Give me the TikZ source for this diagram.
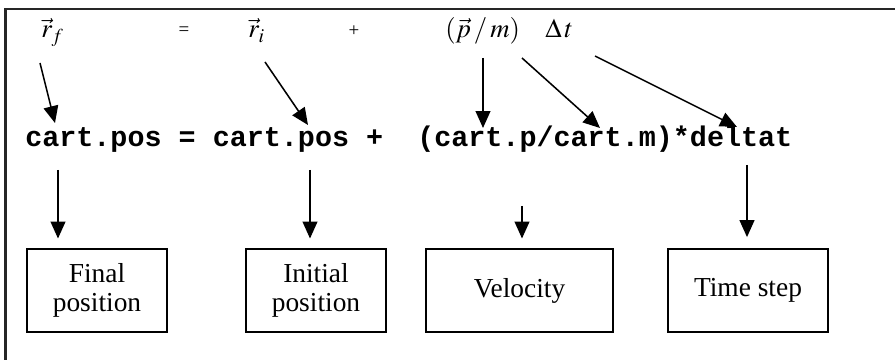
\documentclass[tikz,border=0pt]{standalone}
\usepackage{mathptmx}
\usepackage{fontspec}
\setmainfont{Liberation Serif}
\setmonofont{Liberation Mono}
\usetikzlibrary{arrows.meta}

\begin{document}
\begin{tikzpicture}[
  x=0.025cm, y=-0.025cm,
  >={Triangle[length=12pt, width=10.5pt]},
  arr/.style  = {->, line width=1.1pt},
  sym/.style  = {anchor=base west, inner sep=0pt, font=\fontsize{19}{21}\selectfont},
  op/.style   = {anchor=base, inner sep=0pt, font=\fontsize{13.5}{15}\selectfont},
  prog/.style = {anchor=base west, inner sep=0pt, font=\ttfamily\bfseries\fontsize{20.2}{23}\selectfont},
  box/.style  = {draw, line width=0.9pt, align=center, inner sep=0pt,
                 minimum height=2.075cm, font=\fontsize{19.5}{20.5}\selectfont},
]
\useasboundingbox (0,0) rectangle (895,360);

%% frame (top and left edge only)
\draw[line width=1.5pt, black!85] (5.5,360) -- (5.5,9) -- (895,9);

%% the equation in symbols
\node[sym] (rf) at (41,38)  {$\vec{r}_f$};
\node[op]  (eq) at (184,36) {=};
\node[sym] (ri) at (248,38) {$\vec{r}_i$};
\node[op]  (pl) at (354,37) {+};
\node[sym] (pm) at (445,38) {$(\vec{p}\,/\,m)$};
\node[sym] (dt) at (545,38) {$\Delta\, t$};

%% the program line
\node[prog] (line) at (25,147) {cart.pos = cart.pos +\ \ (cart.p/cart.m)*deltat};

%% meaning of each part
\node[box, minimum width=3.5cm]   (final)   at (97,290.5)  {Final\\position};
\node[box, minimum width=3.5cm]   (initial) at (316,290.5) {Initial\\position};
\node[box, minimum width=4.675cm] (vel)     at (519.5,290.5) {Velocity};
\node[box, minimum width=4cm]     (tstep)   at (748,290.5) {Time step};

%% arrows from symbols down to the code
\coordinate (rf-s) at (40,63);   \coordinate (rf-e) at (55,123);
\coordinate (ri-s) at (265,62);  \coordinate (ri-e) at (308,125);
\coordinate (pm-s) at (483,58);  \coordinate (pm-e) at (483,128);
\coordinate (m-s)  at (522,58);  \coordinate (m-e)  at (600,128);
\coordinate (dt-s) at (595,56);  \coordinate (dt-e) at (737,127);
\draw[arr] (rf-s) -- (rf-e);
\draw[arr] (ri-s) -- (ri-e);
\draw[arr] (pm-s) -- (pm-e);
\draw[arr] (m-s)  -- (m-e);
\draw[arr] (dt-s) -- (dt-e);

%% arrows from the code down to the boxes
\coordinate (pos1) at (58,170);
\coordinate (pos2) at (310,170);
\coordinate (velo) at (522,206);
\coordinate (delt) at (747,165);
\draw[arr, shorten >=7pt] (pos1) -- (pos1 |- final.north);
\draw[arr, shorten >=7pt] (pos2) -- (pos2 |- initial.north);
\draw[arr, shorten >=7pt] (velo) -- (velo |- vel.north);
\draw[arr, shorten >=8pt] (delt) -- (delt |- tstep.north);

\end{tikzpicture}
\end{document}
